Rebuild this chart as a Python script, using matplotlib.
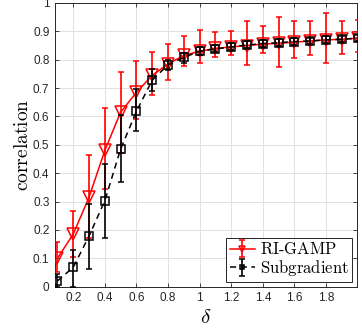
import matplotlib
matplotlib.use("Agg")
import matplotlib.pyplot as plt
import numpy as np

# delta values
delta = [0.1, 0.2, 0.3, 0.4, 0.5, 0.6, 0.7, 0.8, 0.9, 1.0,
         1.1, 1.2, 1.3, 1.4, 1.5, 1.6, 1.7, 1.8, 1.9, 2.0]

# RI-GAMP: mean, lower and upper ends of the error bars
gamp_mean = [0.100, 0.185, 0.315, 0.480, 0.615, 0.685, 0.745, 0.785, 0.815, 0.830,
             0.840, 0.845, 0.850, 0.855, 0.858, 0.862, 0.866, 0.870, 0.872, 0.876]
gamp_low = [0.050, 0.105, 0.172, 0.343, 0.470, 0.592, 0.677, 0.730, 0.777, 0.790,
            0.810, 0.818, 0.780, 0.823, 0.776, 0.806, 0.818, 0.787, 0.820, 0.826]
gamp_high = [0.158, 0.268, 0.465, 0.630, 0.755, 0.795, 0.827, 0.857, 0.882, 0.905,
             0.898, 0.900, 0.935, 0.918, 0.950, 0.936, 0.936, 0.963, 0.935, 0.940]

# Subgradient
sub_mean = [0.020, 0.068, 0.178, 0.303, 0.485, 0.618, 0.728, 0.782, 0.808, 0.830,
            0.838, 0.845, 0.852, 0.857, 0.860, 0.864, 0.866, 0.870, 0.872, 0.876]
sub_low = [0.000, 0.000, 0.062, 0.172, 0.370, 0.548, 0.688, 0.762, 0.790, 0.815,
           0.826, 0.834, 0.840, 0.846, 0.850, 0.853, 0.856, 0.860, 0.862, 0.866]
sub_high = [0.043, 0.128, 0.292, 0.434, 0.605, 0.698, 0.768, 0.800, 0.825, 0.845,
            0.852, 0.858, 0.866, 0.870, 0.872, 0.876, 0.878, 0.882, 0.884, 0.888]

xticks = [0.2, 0.4, 0.6, 0.8, 1.0, 1.2, 1.4, 1.6, 1.8]
xticklabels = ["0.2", "0.4", "0.6", "0.8", "1", "1.2", "1.4", "1.6", "1.8"]
yticks = [0.0, 0.1, 0.2, 0.3, 0.4, 0.5, 0.6, 0.7, 0.8, 0.9, 1.0]
yticklabels = ["0", "0.1", "0.2", "0.3", "0.4", "0.5", "0.6", "0.7", "0.8", "0.9", "1"]

plt.rcParams["mathtext.fontset"] = "cm"
plt.rcParams["font.family"] = ["Liberation Sans", "DejaVu Sans"]

frame = (0.15, 0.15, 0.15)

fig = plt.figure(figsize=(3.62, 3.31), dpi=100)
ax = fig.add_axes([0.152, 0.134, 0.834, 0.857])


def errs(mean, low, high):
    m = np.array(mean)
    return [m - np.array(low), np.array(high) - m]


ax.errorbar(delta, gamp_mean, yerr=errs(gamp_mean, gamp_low, gamp_high),
            color="red", linestyle="-", linewidth=1.1, marker="v", markersize=8.5,
            markerfacecolor="none", markeredgewidth=1.1, capsize=2.5,
            elinewidth=1.2, capthick=1.2, label="RI-GAMP", zorder=3)
ax.errorbar(delta, sub_mean, yerr=errs(sub_mean, sub_low, sub_high),
            color="black", linestyle=(0, (4, 3)), linewidth=1.1, marker="s", markersize=5.5,
            markerfacecolor="none", markeredgewidth=1.1, capsize=2.5,
            elinewidth=1.2, capthick=1.2, label="Subgradient", zorder=4)

ax.set_xlim(0.085, 1.995)
ax.set_ylim(0, 1)
ax.set_xticks(xticks)
ax.set_xticklabels(xticklabels)
ax.set_yticks(yticks)
ax.set_yticklabels(yticklabels)
ax.tick_params(direction="in", length=3, width=0.6, colors=frame, labelsize=8.5,
               top=True, right=True, pad=4)
ax.grid(True, color=(0.88, 0.88, 0.88), linewidth=0.7)
ax.set_axisbelow(True)
for s in ax.spines.values():
    s.set_color(frame)
    s.set_linewidth(0.7)

ax.set_xlabel(r"$\delta$", fontsize=15, labelpad=3)
ax.set_ylabel(r"$\mathrm{correlation}$", fontsize=14, labelpad=1)

leg = ax.legend(loc="lower right", fancybox=False, framealpha=1, edgecolor=frame,
                prop={"size": 12}, markerscale=0.5,
                borderaxespad=0.3, handlelength=1.5, handletextpad=0.3,
                borderpad=0.2, labelspacing=0.05)
leg.get_frame().set_linewidth(0.7)
for t in leg.get_texts():
    t.set_text(r"$\mathrm{" + t.get_text().replace("-", "\\text{-}") + "}$")

fig.savefig("out.png", dpi=100)
